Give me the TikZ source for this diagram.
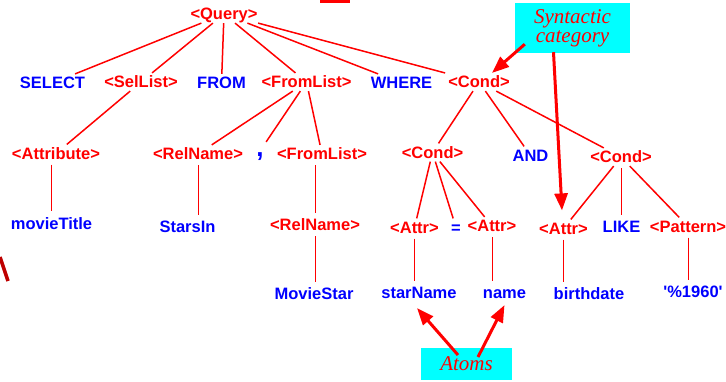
\documentclass[tikz,border=0pt]{standalone}
\usepackage{fontspec}
\setsansfont{Liberation Sans}
\newfontfamily\notefont{Liberation Serif}
\usetikzlibrary{arrows.meta}
\definecolor{notecyan}{RGB}{0,255,255}
\definecolor{cropred}{RGB}{190,0,0}
\tikzset{
  nt/.style={text=red,font=\fontsize{16.5}{18}\sffamily\bfseries,inner sep=3pt,text height=11.8pt,text depth=0pt},
  tm/.style={nt,text=blue},
  edge/.style={red,line width=1.5pt},
  vedge/.style={red,line width=1pt,shorten <=2pt,shorten >=3pt},
  note/.style={fill=notecyan,text=red,font=\fontsize{21}{19}\notefont\itshape,align=center,inner sep=0pt},
  pointer/.style={red,line width=3pt,-{Triangle[length=17pt,width=13pt]}}
}
\begin{document}
\begin{tikzpicture}[x=1pt,y=-1pt]
  \useasboundingbox (0,0) rectangle (726,381);
  % bits of the neighbouring slide
  \fill[red] (320,0) rectangle (350,3);
  \draw[cropred,line width=3.5pt] (0,257) -- (8,281);
  % top level
  \node[nt] (query) at (224,14) {<Query>};
  \node[tm] (select) at (52.5,83) {SELECT};
  \node[nt] (sellist) at (141,82) {<SelList>};
  \node[tm] (from) at (221.5,83) {FROM};
  \node[nt] (fromlist) at (306.5,82) {<FromList>};
  \node[tm] (where) at (401.5,83) {WHERE};
  \node[nt] (cond) at (479,82) {<Cond>};
  \foreach \n in {select,sellist,from,fromlist,where,cond}
    \draw[edge] (query) -- (\n);
  % second level
  \node[nt] (attribute) at (56,153.5) {<Attribute>};
  \node[nt] (relname) at (198,154) {<RelName>};
  \node[tm,font=\fontsize{26}{26}\sffamily\bfseries] (comma) at (260,151) {,};
  \node[nt] (fromlist2) at (322,154) {<FromList>};
  \node[nt] (cond2) at (432.5,152.5) {<Cond>};
  \node[tm] (and) at (530.5,155.5) {AND};
  \node[nt] (cond3) at (621,157) {<Cond>};
  \draw[edge] (sellist) -- (attribute);
  \foreach \n in {relname,comma,fromlist2}
    \draw[edge] (fromlist) -- (\n);
  \foreach \n in {cond2,and,cond3}
    \draw[edge] (cond) -- (\n);
  % third level
  \node[tm] (movietitle) at (51.5,223.5) {movieTitle};
  \node[tm] (starsin) at (187.5,227) {StarsIn};
  \node[nt] (relname2) at (315,225) {<RelName>};
  \node[nt] (attr1) at (414.5,227.5) {<Attr>};
  \node[tm] (equals) at (456,227.5) {=};
  \node[nt] (attr2) at (492,226) {<Attr>};
  \node[nt] (attr3) at (563.5,228.5) {<Attr>};
  \node[tm] (like) at (621.5,227) {LIKE};
  \node[nt] (pattern) at (688,226.5) {<Pattern>};
  \foreach \n in {attr1,equals,attr2}
    \draw[edge] (cond2) -- (\n);
  \foreach \n in {attr3,pattern}
    \draw[edge] (cond3) -- (\n);
  % fourth level
  \node[tm] (moviestar) at (314,294) {MovieStar};
  \node[tm] (starname) at (419,293) {starName};
  \node[tm] (name) at (504.5,293) {name};
  \node[tm] (birthdate) at (589,294) {birthdate};
  \node[tm] (year) at (693,292) {\textquotesingle\%1960\textquotesingle};
  \foreach \a/\b in {relname/starsin,cond3/like,relname2/moviestar,attr1/starname,attr2/name,attr3/birthdate,pattern/year}
    \draw[vedge] (\a) -- (\a |- \b.north);
  \foreach \a/\b in {attribute/movietitle,fromlist2/relname2}
    \draw[vedge] (\b |- \a.south) -- (\b);
  % notes
  \node[note,minimum width=115pt,minimum height=50pt] (syntactic) at (572.5,28) {Syntactic\\category};
  \node[note,minimum width=91pt,minimum height=32pt] (atoms) at (466.5,364) {Atoms};
  \draw[pointer] ([xshift=10pt,yshift=9pt]syntactic.south west) -- ([xshift=13pt]cond.north);
  \draw[pointer] ([xshift=-19pt,yshift=1pt]syntactic.south) -- ([xshift=-1.5pt,yshift=9pt]attr3.north);
  \draw[pointer] ([xshift=-8.5pt,yshift=9pt]atoms.center) -- ([xshift=-2pt,yshift=-6pt]starname.south);
  \draw[pointer] ([xshift=11.5pt,yshift=7pt]atoms.center) -- ([yshift=-3pt]name.south);
\end{tikzpicture}
\end{document}
